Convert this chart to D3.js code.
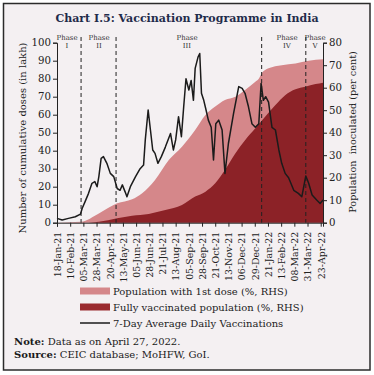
<!DOCTYPE html>
<html>
<head>
<meta charset="utf-8">
<script src="https://cdn.jsdelivr.net/npm/d3@7.9.0/dist/d3.min.js"></script>
<style>
  body { margin: 0; background: #fff; }
  svg { display: block; font-family: "DejaVu Serif", serif; }
</style>
</head>
<body>
<svg id="chart" width="374" height="375"></svg>
<script>
// 7-day average daily vaccinations (lakh, LHS)
const avgDates = ['2021-01-18','2021-01-27','2021-02-07','2021-02-19','2021-02-28','2021-03-03','2021-03-08','2021-03-14','2021-03-20','2021-03-25','2021-03-29','2021-04-01','2021-04-05','2021-04-09','2021-04-15','2021-04-21','2021-04-27','2021-05-03','2021-05-08','2021-05-12','2021-05-17','2021-05-20','2021-05-26','2021-06-04','2021-06-12','2021-06-18','2021-06-21','2021-06-26','2021-06-30','2021-07-04','2021-07-08','2021-07-13','2021-07-19','2021-07-26','2021-08-04','2021-08-09','2021-08-13','2021-08-18','2021-08-23','2021-08-27','2021-08-31','2021-09-05','2021-09-09','2021-09-13','2021-09-16','2021-09-21','2021-09-24','2021-09-27','2021-10-01','2021-10-05','2021-10-09','2021-10-14','2021-10-18','2021-10-22','2021-10-27','2021-11-02','2021-11-07','2021-11-13','2021-11-22','2021-12-01','2021-12-07','2021-12-12','2021-12-18','2021-12-24','2021-12-30','2022-01-05','2022-01-09','2022-01-13','2022-01-17','2022-01-22','2022-01-28','2022-02-03','2022-02-09','2022-02-14','2022-02-20','2022-02-26','2022-03-07','2022-03-15','2022-03-21','2022-03-28','2022-04-02','2022-04-08','2022-04-16','2022-04-22','2022-04-27'];
const avgLakh = [2.4,1.5,2.4,3.3,4.8,8,11.7,16.3,21.9,22.8,20,25.6,35.7,36.7,33,27.4,25.6,19,18,21,17,14.4,20,25.6,30,32,46,62.6,51.5,40.4,38.5,33,36.7,42,49.6,40.4,46,58.9,47.8,64.4,80,73.7,79,68,85.7,92,94,71.9,68,62.6,57,53,34.8,55,57,51.5,27.4,44,60.7,75.6,74.6,71.9,64.4,55,53,55,77.4,68,70,67,53,51.5,40.4,33,27.4,25,18,16.3,14.4,26,21.9,15.4,12.6,10.7,12.6];

// population with 1st dose (%, RHS)
const firstDates = ['2021-01-18','2021-03-01','2021-04-01','2021-05-03','2021-05-29','2021-06-15','2021-07-08','2021-08-01','2021-08-24','2021-09-16','2021-10-04','2021-10-21','2021-11-07','2021-11-25','2021-12-12','2021-12-30','2022-01-05','2022-01-10','2022-01-22','2022-02-14','2022-03-10','2022-04-02','2022-04-27'];
const firstPct = [0,0.4,4.1,8.6,10.4,13,19,27.9,33.8,41.2,47.9,51.6,54.5,56,59,62.7,64,66.4,68.6,70,70.8,72,72.6];

// fully vaccinated population (%, RHS)
const fullDates = ['2021-01-18','2021-03-14','2021-04-01','2021-05-03','2021-05-29','2021-06-27','2021-07-26','2021-08-24','2021-09-16','2021-10-04','2021-10-21','2021-11-07','2021-11-25','2021-12-12','2021-12-30','2022-01-16','2022-02-03','2022-02-20','2022-03-10','2022-03-27','2022-04-14','2022-04-27'];
const fullPct = [0,0,0.4,2,3.1,3.9,5.6,7.9,11.6,13.8,17.5,23.4,30.8,36.7,42,47.1,52.3,56.7,59.3,60.4,61.6,62.2];

const phaseStarts = ['2021-03-01','2021-05-01','2022-01-10','2022-03-28'];
const phaseNames = ['I','II','III','IV','V'];
const xTickLabels = ['18-Jan-21','10-Feb-21','05-Mar-21','28-Mar-21','20-Apr-21','13-May-21','05-Jun-21','28-Jun-21','21-Jul-21','13-Aug-21','05-Sep-21','28-Sep-21','21-Oct-21','13-Nov-21','06-Dec-21','29-Dec-21','21-Jan-22','13-Feb-22','08-Mar-22','31-Mar-22','23-Apr-22'];
const leftTicks = d3.range(0, 101, 10);
const rightTicks = d3.range(0, 81, 10);

const parse = d3.timeParse('%Y-%m-%d');
const parseTick = d3.timeParse('%d-%b-%y');

const svg = d3.select('#chart');
const plotLeft = 57, plotRight = 323, plotTop = 42.7, plotBottom = 222.7;

svg.append('rect')
  .attr('x', 3.5).attr('y', 3.5).attr('width', 366.5).attr('height', 366.5)
  .attr('fill', '#f4f0f2').attr('stroke', '#2b2b2b').attr('stroke-width', 1.5);

svg.append('text')
  .attr('x', 187).attr('y', 21.5).attr('text-anchor', 'middle')
  .attr('font-weight', 'bold').attr('font-size', 11).attr('fill', '#1f2b4a')
  .text('Chart I.5: Vaccination Programme in India');

const x = d3.scaleTime().domain([parse('2021-01-18'), parse('2022-04-27')]).range([plotLeft, plotRight]);
const yL = d3.scaleLinear().domain([0, 100]).range([plotBottom, plotTop]);
const yR = d3.scaleLinear().domain([0, 80]).range([plotBottom, plotTop]);

const firstData = firstDates.map((d, i) => ({ date: parse(d), v: firstPct[i] }));
const fullData = fullDates.map((d, i) => ({ date: parse(d), v: fullPct[i] }));
const avgData = avgDates.map((d, i) => ({ date: parse(d), v: avgLakh[i] }));

const area = d3.area().x(d => x(d.date)).y0(yR(0)).y1(d => yR(d.v)).curve(d3.curveMonotoneX);

svg.append('path').datum(firstData).attr('d', area).attr('fill', '#d5878a');
svg.append('path').datum(fullData).attr('d', area).attr('fill', '#8c2227');

// phase lines
const phaseX = phaseStarts.map(d => x(parse(d)));
phaseX.forEach(px => {
  svg.append('line')
    .attr('x1', px).attr('x2', px).attr('y1', 37).attr('y2', plotBottom)
    .attr('stroke', '#222').attr('stroke-width', 1).attr('stroke-dasharray', '4,3');
});

svg.append('path').datum(avgData)
  .attr('d', d3.line().x(d => x(d.date)).y(d => yL(d.v)))
  .attr('fill', 'none').attr('stroke', '#1b1b1b').attr('stroke-width', 1.5)
  .attr('stroke-linejoin', 'round');

// phase labels
const labelX = [67, 99, 187, 287, 315];
phaseNames.forEach((p, i) => {
  const g = svg.append('g').attr('font-size', 7).attr('fill', '#333').attr('text-anchor', 'middle');
  g.append('text').attr('x', labelX[i]).attr('y', 39.5).text('Phase');
  g.append('text').attr('x', labelX[i]).attr('y', 48).text(p);
});

// axes
const axL = svg.append('g').attr('transform', `translate(${plotLeft},0)`)
  .call(d3.axisLeft(yL).tickValues(leftTicks).tickSize(4).tickPadding(2));
const axR = svg.append('g').attr('transform', `translate(${plotRight},0)`)
  .call(d3.axisRight(yR).tickValues(rightTicks).tickSize(4).tickPadding(2));
const axB = svg.append('g').attr('transform', `translate(0,${plotBottom})`)
  .call(d3.axisBottom(x).tickValues(xTickLabels.map(parseTick)).tickSize(4)
    .tickFormat((d, i) => xTickLabels[i]));

[axL, axR, axB].forEach(a => {
  a.select('.domain').attr('stroke', '#222').attr('stroke-width', 1);
  a.selectAll('.tick line').attr('stroke', '#222');
  a.selectAll('text').attr('font-family', '"DejaVu Serif", serif').attr('fill', '#222');
});
axL.selectAll('text').attr('font-size', 10.2);
axR.selectAll('text').attr('font-size', 10.2);
axB.selectAll('text')
  .attr('font-size', 9.4)
  .attr('transform', 'rotate(-90)')
  .attr('text-anchor', 'end')
  .attr('x', -9).attr('y', 0).attr('dy', '0.35em');

svg.append('text')
  .attr('transform', 'translate(26,138) rotate(-90)')
  .attr('text-anchor', 'middle').attr('font-size', 10).attr('fill', '#222')
  .text('Number of cumulative doses (in lakh)');
svg.append('text')
  .attr('transform', 'translate(356,132) rotate(-90)')
  .attr('text-anchor', 'middle').attr('font-size', 9.7).attr('fill', '#222')
  .style('white-space', 'pre')
  .text('Population  inoculated (per cent)');

// legend
const legend = svg.append('g').attr('font-size', 10).attr('fill', '#222');
const legendItems = [
  { label: 'Population with 1st dose (%, RHS)', type: 'rect', color: '#d5878a' },
  { label: 'Fully vaccinated population (%, RHS)', type: 'rect', color: '#9a2a2f' },
  { label: '7-Day Average Daily Vaccinations', type: 'line', color: '#1b1b1b' }
];
legendItems.forEach((d, i) => {
  const cy = 291 + i * 16;
  if (d.type === 'rect') {
    legend.append('rect').attr('x', 80).attr('y', cy - 3.5).attr('width', 30).attr('height', 7).attr('fill', d.color);
  } else {
    legend.append('line').attr('x1', 80).attr('x2', 110).attr('y1', cy).attr('y2', cy)
      .attr('stroke', d.color).attr('stroke-width', 1.5);
  }
  legend.append('text').attr('x', 113).attr('y', cy + 3.5).text(d.label);
});

const note = svg.append('g').attr('font-size', 10).attr('fill', '#1a1a1a');
const n1 = note.append('text').attr('x', 14).attr('y', 345);
n1.append('tspan').attr('font-weight', 'bold').text('Note:');
n1.append('tspan').text(' Data as on April 27, 2022.');
const n2 = note.append('text').attr('x', 14).attr('y', 358);
n2.append('tspan').attr('font-weight', 'bold').text('Source:');
n2.append('tspan').text(' CEIC database; MoHFW, GoI.');
</script>
</body>
</html>
